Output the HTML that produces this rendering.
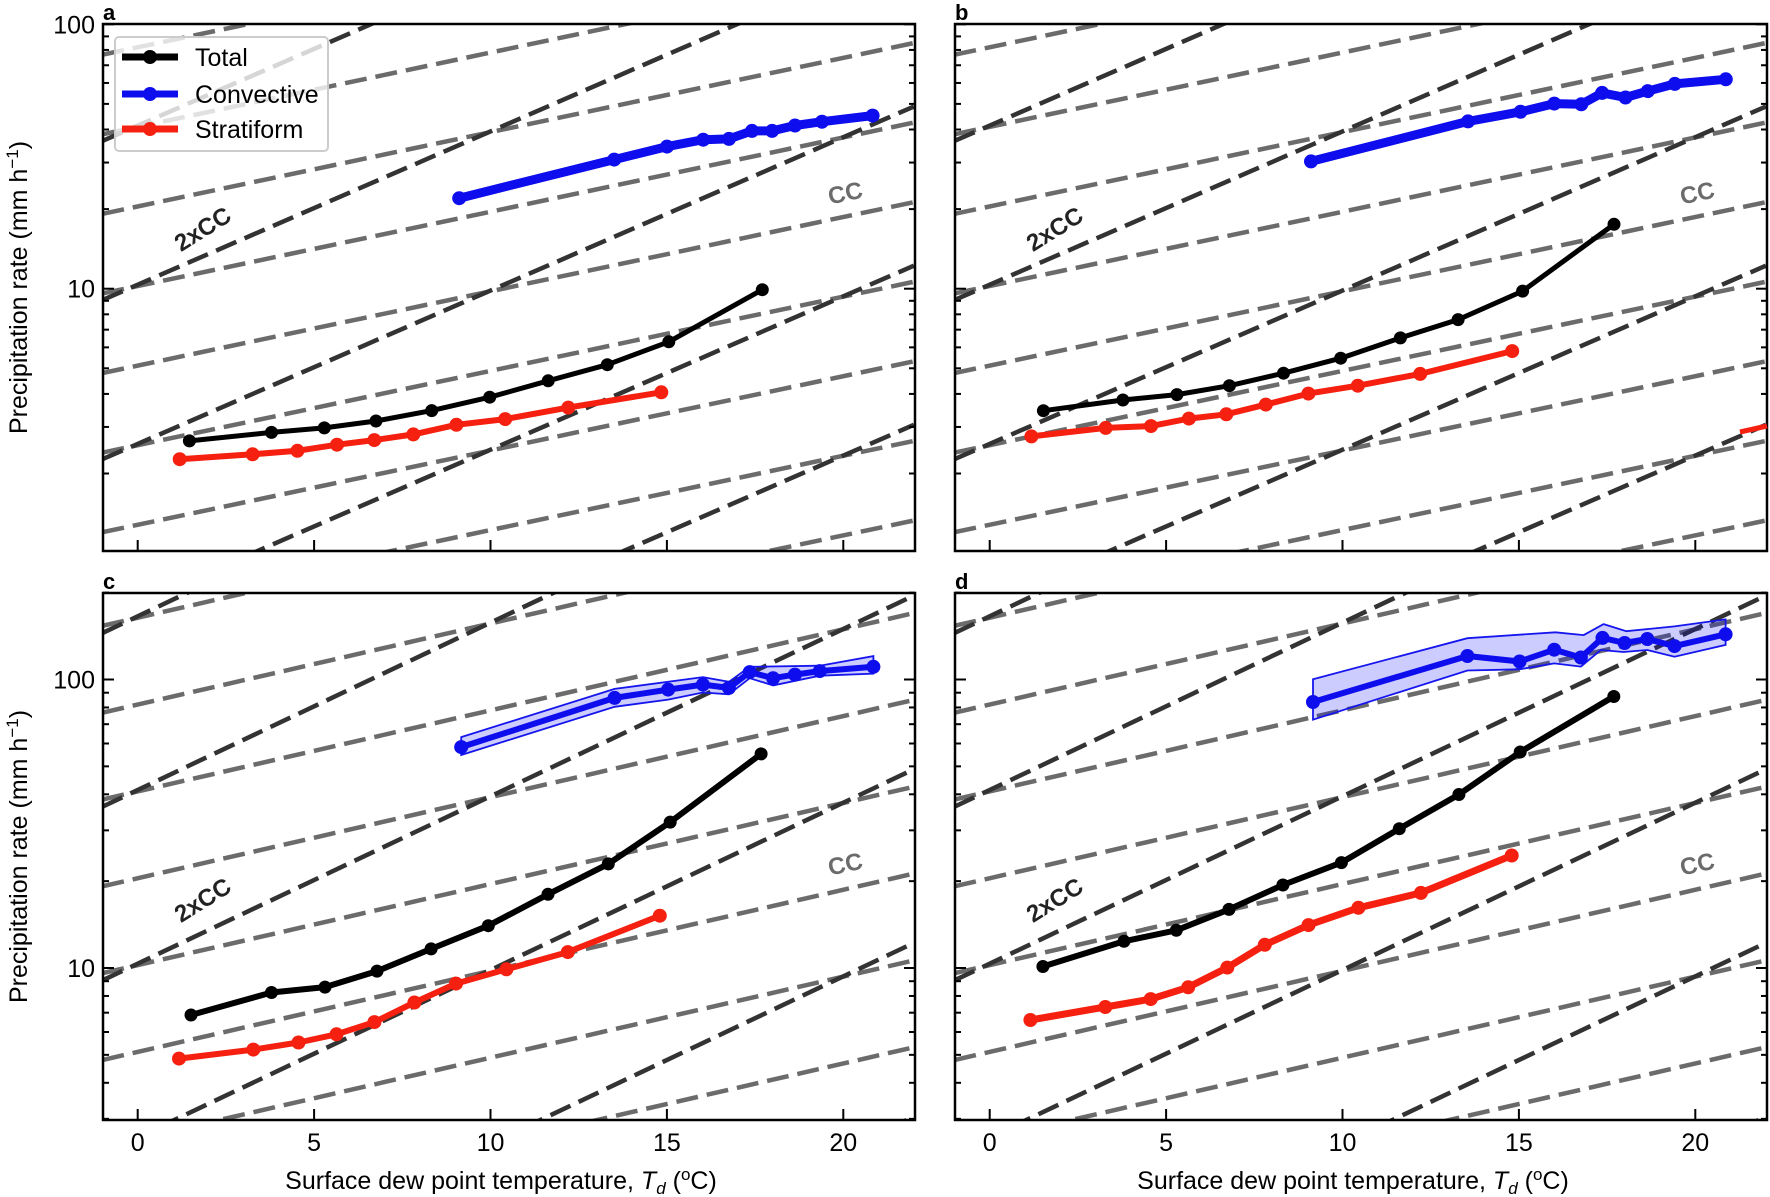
<!DOCTYPE html>
<html><head><meta charset="utf-8"><style>
html,body{margin:0;padding:0;background:#fff;width:1770px;height:1197px;overflow:hidden}
svg{display:block}
text{font-family:"Liberation Sans",sans-serif}
</style></head><body>
<svg id="s" width="1770" height="1197" xmlns="http://www.w3.org/2000/svg">
<defs>
<clipPath id="ca"><rect x="103" y="24" width="812" height="527"/></clipPath>
<clipPath id="cb"><rect x="955" y="24" width="812" height="527"/></clipPath>
<clipPath id="cc"><rect x="103" y="593" width="812" height="527"/></clipPath>
<clipPath id="cd"><rect x="955" y="593" width="812" height="527"/></clipPath>
</defs>
<g id="g"></g>
</svg>
<script>
var g=document.getElementById('g');var out='';
var P=[
 {id:'a',x0:103,y0:24,y1:551,top:true,c:'ca'},
 {id:'b',x0:955,y0:24,y1:551,top:true,c:'cb'},
 {id:'c',x0:103,y0:593,y1:1120,top:false,c:'cc'},
 {id:'d',x0:955,y0:593,y1:1120,top:false,c:'cd'}];
var W=812,U=35.28;
function X(p,T){return p.x0+34.7+U*T;}
function Y(p,l){return p.top?24.3+(2-l)*264.4:679.5+(2-l)*288.5;}
P.forEach(function(p){
 var s='<g clip-path="url(#'+p.c+')">';
 for(var k=-4;k<12;k++){var a=0.079+k*0.301;
  var l1=a, l2=a+0.0281*23;
  s+='<line x1="'+X(p,-1)+'" y1="'+Y(p,l1)+'" x2="'+X(p,22)+'" y2="'+Y(p,l2)+'" stroke="#6b6b6b" stroke-width="4.5" stroke-dasharray="22 9"/>';}
 for(var k=-4;k<8;k++){var a=0.355+k*0.602;
  s+='<line x1="'+X(p,-1)+'" y1="'+Y(p,a)+'" x2="'+X(p,22)+'" y2="'+Y(p,a+0.058*23)+'" stroke="#333" stroke-width="4.5" stroke-dasharray="22 9"/>';}
 s+='</g>';
 var xl=p.x0,xr=p.x0+W;
 for(var T=0;T<=20;T+=5){var x=X(p,T);s+='<line x1="'+x+'" y1="'+p.y1+'" x2="'+x+'" y2="'+(p.y1-11)+'" stroke="#000" stroke-width="2"/>';
  if(!p.top)s+='<text x="'+x+'" y="'+(p.y1+31)+'" font-size="25" text-anchor="middle">'+T+'</text>';}
 for(var d=0;d<3;d++)for(var m=1;m<10;m++){var l=d+Math.log10(m);var y=Y(p,l);if(y<p.y0-0.5||y>p.y1+0.5)continue;
  var len=m==1?11:6;
  s+='<line x1="'+xl+'" y1="'+y+'" x2="'+(xl+len)+'" y2="'+y+'" stroke="#000" stroke-width="2"/>';
  s+='<line x1="'+xr+'" y1="'+y+'" x2="'+(xr-len)+'" y2="'+y+'" stroke="#000" stroke-width="2"/>';
  if(m==1&&(p.id=='a'||p.id=='c'))s+='<text x="'+(xl-8)+'" y="'+(y+9)+'" font-size="25" text-anchor="end">'+Math.pow(10,d)+'</text>';}
 s+='<rect x="'+xl+'" y="'+p.y0+'" width="'+W+'" height="'+(p.y1-p.y0)+'" fill="none" stroke="#000" stroke-width="2.5"/>';
 s+='<text x="'+xl+'" y="'+(p.y0-4)+'" font-size="22" font-weight="bold">'+p.id+'</text>';
 var cy=(p.y0+p.y1)/2;
 if(p.id=='a'||p.id=='c')s+='<text transform="translate(27,'+cy+') rotate(-90)" font-size="25" text-anchor="middle">Precipitation rate (mm h<tspan dy="-9" font-size="17">−1</tspan><tspan dy="9">)</tspan></text>';
 if(!p.top)s+='<text x="'+(xl+W/2-8)+'" y="'+1189+'" font-size="25" text-anchor="middle">Surface dew point temperature, <tspan font-style="italic">T</tspan><tspan font-style="italic" font-size="17" dy="5">d</tspan><tspan dy="-5"> (</tspan><tspan font-size="17" dy="-9">o</tspan><tspan dy="9">C)</tspan></text>';
 var ox=p.x0-103, oy=p.top?0:671;
 s+='<text transform="translate('+(207+ox)+','+(236+oy)+') rotate(-32)" font-size="24" font-weight="bold" fill="#222" text-anchor="middle">2xCC</text>';
 s+='<text transform="translate('+(847+ox)+','+(201+oy)+') rotate(-12)" font-size="24" font-weight="bold" fill="#6b6b6b" text-anchor="middle">CC</text>';
 out+=s;
});
function pts(a){var r='';for(var i=0;i<a[0].length;i++)r+=a[0][i]+','+a[1][i]+' ';return r;}
function series(x,y,col,w,rad){var s='<polyline points="'+pts([x,y])+'" fill="none" stroke="'+col+'" stroke-width="'+w+'" stroke-linejoin="round"/>';
 for(var i=0;i<x.length;i++)s+='<circle cx="'+x[i]+'" cy="'+y[i]+'" r="'+rad+'" fill="'+col+'"/>';return s;}
function band(ux,uy,lx,ly){var p='';for(var i=0;i<ux.length;i++)p+=ux[i]+','+uy[i]+' ';for(var i=lx.length-1;i>=0;i--)p+=lx[i]+','+ly[i]+' ';
 return '<polygon points="'+p+'" fill="#0000ff" fill-opacity="0.2" stroke="#1515ee" stroke-width="1.8"/>';}
out+=series([459.2,614.2,667,703.2,729,752,772.1,795,822,872.6],[198.2,159.6,146.6,139.7,138.9,130.9,130.9,125.5,121.7,115.6],'#0d0dee',9,7);
out+=series([179.7,252.6,297.4,337,374.3,413.3,456.4,505.2,568.3,661.3],[459.2,454.3,450.8,444.7,440.1,434.4,424.8,419.1,407.6,392.3],'#f5200f',6,7);
out+=series([189.4,271.5,324.3,376,431.7,489.7,548.2,607.3,668.8,762.3],[440.9,432.4,427.9,421,410.6,397.2,380.8,364.7,341.8,289.7],'#000',5,6.5);
out+=series([1311,1468,1520.5,1554.3,1581.3,1602.1,1625.5,1647.8,1674.8,1725.8],[161.4,121.4,111.8,103.6,104.3,92.9,97.5,91.1,83.9,79.3],'#0d0dee',9,7);
out+=series([1031.4,1105.7,1151,1188.9,1226.3,1265.8,1308.4,1357.8,1420.2,1512.2],[436.4,427.9,426.1,418.6,414.3,404.6,393.6,385.7,373.9,351.1],'#f5200f',6,7);
out+=series([1043.4,1122.9,1176.9,1229.4,1283.5,1340.7,1400.4,1458.1,1522.6,1614],[410.7,400,394.6,385.7,373.2,358.2,337.9,319.6,291.1,224.3],'#000',5,6.5);
out+='<line x1="1740" y1="432" x2="1767" y2="426" stroke="#f5200f" stroke-width="5"/>';
out+=band([461.2,614.6,702.9,728.9,749.7,819.8,873.4],[737.1,688.9,677.1,681.8,666.8,665.7,656.1],[461.2,614.6,668.1,702.9,728.9,749.7,773.1,819.8,873.4],[755,706.8,699.6,692.5,694.3,678.2,685.4,675.7,673.6]);
out+=series([461.2,614.6,668.1,702.9,728.9,749.7,773.1,794.9,819.8,873.4],[747.1,697.9,689.6,684.6,687.9,672.1,678.2,674.6,671.1,666.8],'#0d0dee',6,7);
out+=series([179,253.3,298.5,336.5,374.4,414.4,456,506.4,567.8,659.8],[1058.6,1049.6,1042.5,1034.3,1022.1,1002.5,983.6,969.3,952.1,915.7],'#f5200f',6,7);
out+=series([191,271.5,325,377,431.1,488.3,548,608.3,670.2,761.1],[1015,992.5,987.1,971.1,948.9,925.7,894.3,863.9,822.1,753.9],'#000',6,6.5);
out+=band([1313,1467.4,1555.4,1583.7,1603.6,1626.3,1674.5,1725.6],[679.2,638.2,632.3,635.1,624.1,631.2,626.4,619.4],[1313,1467.4,1519.6,1554.2,1580.9,1600.8,1623.5,1647.3,1674.5,1725.6],[719.7,670.5,669.3,663.4,666.6,650,652,650,656.7,644.9]);
out+=series([1313,1467.4,1519.6,1554.2,1580.9,1602.5,1624.6,1647.3,1674.5,1725.6],[702,656,661.5,649.7,657.5,637.9,643,639,646.1,634.3],'#0d0dee',6,7);
out+=series([1030.4,1105.3,1150.7,1188.2,1227.3,1264.8,1308.5,1358.4,1420.9,1511.7],[1020,1007,999.1,987.3,967.6,944.8,925.1,907.8,892.9,855.5],'#f5200f',7,7);
out+=series([1042.9,1124,1176.3,1229,1282.9,1341.4,1399.3,1458.9,1520.2,1613.8],[966.5,941.3,930.3,909.4,885,862.6,828.7,794.5,752,696.5],'#000',6,6.5);
out+='<rect x="115" y="37" width="213" height="114" rx="4" fill="#fff" fill-opacity="0.8" stroke="#ccc" stroke-width="2"/>';
var L=[['Total','#000',57],['Convective','#0d0dee',94],['Stratiform','#f5200f',129]];
L.forEach(function(e){out+='<line x1="122" y1="'+e[2]+'" x2="178" y2="'+e[2]+'" stroke="'+e[1]+'" stroke-width="7"/><circle cx="150" cy="'+e[2]+'" r="7" fill="'+e[1]+'"/><text x="195" y="'+(e[2]+9)+'" font-size="25">'+e[0]+'</text>';});
g.innerHTML=out;
</script>
</body></html>
